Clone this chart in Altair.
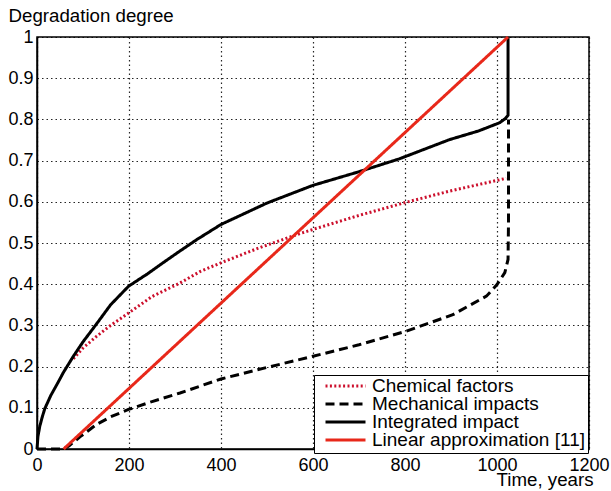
import altair as alt
import pandas as pd

# ---- data ----
series_names = ["Chemical factors", "Mechanical impacts", "Integrated impact", "Linear approximation [11]"]

chem_x = [79, 100, 130, 160, 199, 250, 311, 355, 400, 480, 564, 600, 700, 803, 897, 1020]
chem_y = [0.219, 0.245, 0.274, 0.30, 0.33, 0.37, 0.403, 0.431, 0.452, 0.487, 0.52, 0.533, 0.567, 0.599, 0.626, 0.657]

mech_x = [0, 57, 70, 94, 130, 160, 199, 250, 311, 400, 500, 600, 700, 803, 904, 977, 1000, 1017, 1024, 1025, 1025]
mech_y = [0, 0, 0.008, 0.03, 0.06, 0.078, 0.096, 0.115, 0.136, 0.17, 0.198, 0.225, 0.253, 0.286, 0.326, 0.371, 0.399, 0.428, 0.46, 0.55, 0.8]

integ_x = [0, 2, 6, 12, 17, 30, 45, 57, 79, 100, 131, 160, 199, 240, 274, 310, 347, 400, 500, 600, 700, 787, 897, 960, 1006, 1018, 1024, 1024]
integ_y = [0, 0.03, 0.055, 0.08, 0.098, 0.13, 0.16, 0.185, 0.225, 0.26, 0.306, 0.35, 0.395, 0.425, 0.452, 0.48, 0.508, 0.545, 0.597, 0.64, 0.673, 0.704, 0.751, 0.772, 0.792, 0.802, 0.81, 1.0]

lin_x = [58, 1024]
lin_y = [0, 1.0]

x_ticks = [0, 200, 400, 600, 800, 1000, 1200]
y_ticks = [0, 0.1, 0.2, 0.3, 0.4, 0.5, 0.6, 0.7, 0.8, 0.9, 1]

rows = []
for name, xs, ys in [
    (series_names[0], chem_x, chem_y),
    (series_names[1], mech_x, mech_y),
    (series_names[2], integ_x, integ_y),
    (series_names[3], lin_x, lin_y),
]:
    for i, (xv, yv) in enumerate(zip(xs, ys)):
        rows.append({"series": name, "t": xv, "d": yv, "idx": i})
df = pd.DataFrame(rows)

FONT = "Liberation Sans"

color_scale = alt.Scale(domain=series_names, range=["#cc0f2c", "#000000", "#000000", "#e8281a"])
dash_scale = alt.Scale(domain=series_names, range=[[2, 2.4], [9, 5], [1, 0], [1, 0]])

legend = alt.Legend(
    title=None,
    orient="none",
    legendX=277,
    legendY=338,
    strokeColor="black",
    fillColor="white",
    padding=3,
    symbolType="stroke",
    symbolSize=1600,
    symbolStrokeWidth=3,
    symbolOffset=7,
    labelOffset=5,
    labelFont=FONT,
    labelFontSize=19,
    labelColor="black",
    clipHeight=16,
    rowPadding=-4,
    labelLimit=400,
)

base = alt.Chart(df).mark_line(strokeWidth=3).encode(
    x=alt.X("t:Q", scale=alt.Scale(domain=[0, 1200], nice=False),
            axis=alt.Axis(values=x_ticks, format="d", title="Time, years",
                          titleX=556, titleY=36, titleAlign="right",
                          titleBaseline="alphabetic", labelPadding=7, labelFlush=False)),
    y=alt.Y("d:Q", scale=alt.Scale(domain=[0, 1], nice=False),
            axis=alt.Axis(values=y_ticks, format="~g", title="Degradation degree",
                          titleAngle=0, titleX=-29, titleY=-16, titleAlign="left",
                          titleBaseline="alphabetic", labelPadding=4, labelFlush=False)),
    color=alt.Color("series:N", scale=color_scale, legend=legend),
    strokeDash=alt.StrokeDash("series:N", scale=dash_scale, legend=legend),
    order=alt.Order("idx:Q"),
)

draw_order = [series_names[1], series_names[0], series_names[2], series_names[3]]
layers = [base.transform_filter(alt.datum.series == s) for s in draw_order]

chart = alt.layer(*layers).properties(
    width=552,
    height=412,
    background="white",
    autosize=alt.AutoSizeParams(type="none"),
    padding={"left": 37, "top": 37, "right": 22, "bottom": 42},
).configure_view(
    stroke="black", strokeWidth=1.5
).configure_axis(
    domainColor="black", domainWidth=1.5,
    grid=True, gridColor="black", gridDash=[1.5, 3], gridWidth=1.2, gridOpacity=0.85,
    tickSize=0,
    labelFont=FONT, labelFontSize=18, labelColor="black",
    titleFont=FONT, titleFontSize=18.7, titleColor="black", titleFontWeight="normal",
)

chart.save("out.html", embed_options={"renderer": "svg", "actions": False})
